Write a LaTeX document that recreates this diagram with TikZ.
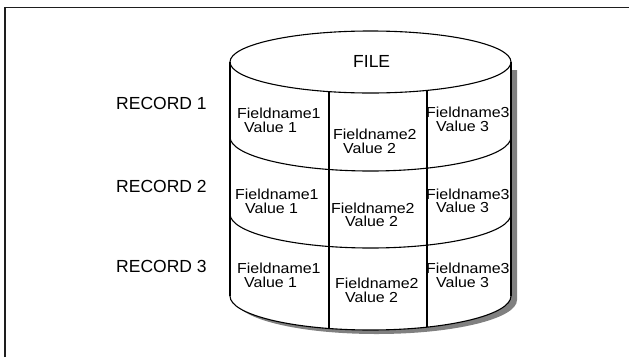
\documentclass[tikz,border=0pt]{standalone}
\usepackage{fontspec}
\setmainfont{Liberation Sans}
\newfontfamily\cellfont[FakeStretch=1.10]{Liberation Sans}
\definecolor{shadowgray}{RGB}{128,128,128}
\definecolor{framecol}{RGB}{30,30,30}
\begin{document}
\begin{tikzpicture}[x=1pt,y=-1pt,
  cyl/.style={line width=1.1pt, draw=black},
  frameline/.style={line width=1.6pt, draw=framecol},
  celltxt/.style={font=\cellfont\fontsize{14.5}{14}\selectfont, anchor=north west, inner sep=0pt},
  bigtxt/.style={font=\fontsize{17.5}{18}\selectfont, anchor=north west, inner sep=0pt}]
\useasboundingbox (0,0) rectangle (629,357);
% frame (left and top only)
\draw[frameline] (5,357) -- (5,7.5) -- (629,7.5);
% shadow
\fill[shadowgray] (236,70) -- (517,70) -- (517,300)
  arc[start angle=0,end angle=180,x radius=140.5,y radius=34] -- cycle;
% body
\fill[white] (230,62) -- (511,62) -- (511,296)
  arc[start angle=0,end angle=180,x radius=140.5,y radius=34] -- cycle;
% top ellipse
\draw[cyl, fill=white] (370.5,62) ellipse[x radius=140.5, y radius=31];
% sides
\draw[cyl] (230,62) -- (230,296);
\draw[cyl] (511,62) -- (511,296);
% record separators and bottom
\draw[cyl] (511,137) arc[start angle=0,end angle=180,x radius=140.5,y radius=34];
\draw[cyl] (511,214) arc[start angle=0,end angle=180,x radius=140.5,y radius=34];
\draw[cyl] (511,296) arc[start angle=0,end angle=180,x radius=140.5,y radius=34];
% column dividers
\draw[cyl] (329,91.6) -- (329,328.5);
\draw[cyl] (427,90.4) -- (427,327.1);
% texts
\node[bigtxt] (file) at (353,55) {FILE};
\node[bigtxt] (rec1) at (116,97) {RECORD 1};
\node[bigtxt] (rec2) at (116,180) {RECORD 2};
\node[bigtxt] (rec3) at (116,260) {RECORD 3};
% record 1
\node[celltxt] (f11) at (237,108) {Fieldname1};
\node[celltxt] (v11) at (244,122) {Value 1};
\node[celltxt] (f12) at (333,129) {Fieldname2};
\node[celltxt] (v12) at (343,143) {Value 2};
\node[celltxt] (f13) at (426,107) {Fieldname3};
\node[celltxt] (v13) at (436,121) {Value 3};
% record 2
\node[celltxt] (f21) at (235,189) {Fieldname1};
\node[celltxt] (v21) at (245,203) {Value 1};
\node[celltxt] (f22) at (331,203) {Fieldname2};
\node[celltxt] (v22) at (345,216) {Value 2};
\node[celltxt] (f23) at (426,189) {Fieldname3};
\node[celltxt] (v23) at (436,202) {Value 3};
% record 3
\node[celltxt] (f31) at (237,263) {Fieldname1};
\node[celltxt] (v31) at (244,277) {Value 1};
\node[celltxt] (f32) at (335,278) {Fieldname2};
\node[celltxt] (v32) at (345,292) {Value 2};
\node[celltxt] (f33) at (426,263) {Fieldname3};
\node[celltxt] (v33) at (436,277) {Value 3};
\end{tikzpicture}
\end{document}
